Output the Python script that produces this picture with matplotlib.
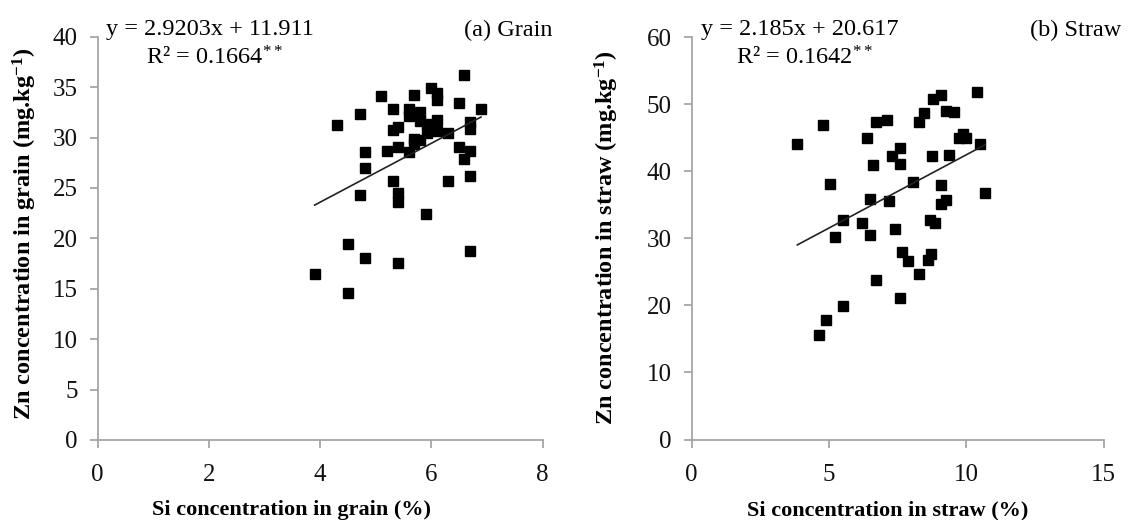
import matplotlib
matplotlib.use("Agg")
import matplotlib.pyplot as plt
import numpy as np

plt.rcParams['font.family'] = ['Liberation Serif', 'DejaVu Serif']
plt.rcParams['mathtext.fontset'] = 'custom'
plt.rcParams['mathtext.rm'] = 'Liberation Serif'
plt.rcParams['mathtext.it'] = 'Liberation Serif:italic'
plt.rcParams['mathtext.bf'] = 'Liberation Serif:bold'

# ---- data ----
grain_si = [6.59, 5.99, 6.10, 6.10, 5.10, 5.69, 6.50, 6.89, 4.71, 5.31, 5.60, 5.60,
            5.80, 5.80, 5.92, 6.10, 6.70, 6.70, 4.30, 5.40, 5.31, 5.92, 6.10, 6.29,
            5.69, 5.80, 5.69, 4.80, 5.20, 5.40, 5.60, 6.50, 6.70, 6.59, 4.80, 5.31,
            6.29, 6.70, 4.71, 5.40, 5.40, 5.90, 4.50, 4.80, 5.40, 3.90, 4.50, 6.70]
grain_zn = [36.25, 34.96, 34.46, 33.73, 34.13, 34.23, 33.40, 32.80, 32.37, 32.80, 32.80, 32.14,
            32.57, 31.64, 31.31, 31.74, 31.58, 30.88, 31.28, 31.05, 30.79, 30.49, 30.69, 30.45,
            29.89, 29.72, 29.32, 28.56, 28.66, 29.03, 28.56, 29.03, 28.66, 27.83, 27.00, 25.70,
            25.70, 26.17, 24.29, 24.52, 23.59, 22.40, 19.45, 18.03, 17.56, 16.50, 14.61, 18.76]

straw_si = [10.38, 8.80, 9.10, 9.26, 9.56, 8.47, 8.29, 4.79, 6.71, 7.10, 6.40, 3.85,
            9.75, 9.90, 10.00, 10.50, 7.59, 7.28, 7.59, 8.76, 9.39, 6.62, 5.03, 8.07,
            9.09, 10.69, 6.48, 7.19, 9.26, 9.09, 5.51, 6.22, 8.69, 8.87, 7.41, 5.21,
            6.48, 7.68, 7.89, 8.70, 8.61, 8.29, 6.71, 7.59, 5.51, 4.89, 4.63]
straw_zn = [51.90, 50.85, 51.39, 49.00, 48.85, 48.65, 47.35, 46.86, 47.35, 47.71, 45.02, 44.13,
            45.00, 45.50, 45.00, 44.13, 43.53, 42.27, 41.03, 42.27, 42.42, 40.88, 38.15, 38.45,
            37.94, 36.70, 35.95, 35.60, 35.80, 35.20, 32.70, 32.36, 32.70, 32.36, 31.42, 30.27,
            30.46, 27.98, 26.58, 27.68, 26.73, 24.74, 23.84, 21.10, 19.85, 17.86, 15.52]

grain_fit = (2.9203, 11.911)
straw_fit = (2.185, 20.617)

grain_xticks = [0, 2, 4, 6, 8]
grain_yticks = [0, 5, 10, 15, 20, 25, 30, 35, 40]
straw_xticks = [0, 5, 10, 15]
straw_yticks = [0, 10, 20, 30, 40, 50, 60]

W, H = 1128, 520
fig = plt.figure(figsize=(W / 100, H / 100), dpi=100)

axc = '#a6a6a6'

def px_axes(x0, x1, ytop, ybot):
    return fig.add_axes([x0 / W, (H - ybot) / H, (x1 - x0) / W, (ybot - ytop) / H])

ax1 = px_axes(97.7, 542.7, 36.7, 440.0)
ax2 = px_axes(691.6, 1103.5, 37.3, 439.5)

def style(ax, xt, yt):
    ax.set_xlim(xt[0], xt[-1])
    ax.set_ylim(yt[0], yt[-1])
    ax.set_xticks(xt)
    ax.set_yticks(yt)
    for s in ['top', 'right']:
        ax.spines[s].set_visible(False)
    for s in ['left', 'bottom']:
        ax.spines[s].set_color(axc)
        ax.spines[s].set_linewidth(1.3)
    ax.tick_params(axis='both', direction='out', length=5.5, width=1.3, color=axc,
                   labelsize=18, labelcolor='#111111')
    ax.tick_params(axis='y', pad=9)
    ax.tick_params(axis='x', pad=12)

style(ax1, grain_xticks, grain_yticks)
style(ax2, straw_xticks, straw_yticks)

ms = 7.2
ax1.plot(grain_si, grain_zn, 's', color='black', markersize=ms, linestyle='none', clip_on=False)
ax2.plot(straw_si, straw_zn, 's', color='black', markersize=ms, linestyle='none', clip_on=False)

gx = np.array([min(grain_si), max(grain_si)])
ax1.plot(gx, grain_fit[0] * gx + grain_fit[1], color='#222222', linewidth=1.2)
sx = np.array([min(straw_si), max(straw_si)])
ax2.plot(sx, straw_fit[0] * sx + straw_fit[1], color='#222222', linewidth=1.2)

fs_ann = 17.5
fig.text(106 / W, 1 - 30 / H, 'y = 2.9203x + 11.911', fontsize=fs_ann, ha='left', va='center')
fig.text(146 / W, 1 - 58 / H, 'R² = 0.1664$^{**}$', fontsize=fs_ann, ha='left', va='center')
fig.text(553 / W, 1 - 30 / H, '(a) Grain', fontsize=fs_ann, ha='right', va='center')

fig.text(701 / W, 1 - 30 / H, 'y = 2.185x + 20.617', fontsize=fs_ann, ha='left', va='center')
fig.text(736 / W, 1 - 58 / H, 'R² = 0.1642$^{**}$', fontsize=fs_ann, ha='left', va='center')
fig.text(1030 / W, 1 - 30 / H, '(b) Straw', fontsize=fs_ann, ha='left', va='center')

fs_lab = 16
fig.text(292 / W, 1 - 510 / H, 'Si concentration in grain (%)', fontsize=fs_lab,
         fontweight='bold', ha='center', va='center')
fig.text(888 / W, 1 - 510 / H, 'Si concentration in straw (%)', fontsize=fs_lab,
         fontweight='bold', ha='center', va='center')
fig.text(25 / W, 1 - 234 / H, r'Zn concentration in grain (mg.kg$^{\mathbf{-1}}$)', fontsize=17.5,
         fontweight='bold', ha='center', va='center', rotation=90)
fig.text(607 / W, 1 - 238 / H, r'Zn concentration in straw (mg.kg$^{\mathbf{-1}}$)', fontsize=17.5,
         fontweight='bold', ha='center', va='center', rotation=90)

fig.savefig('out.png', dpi=100)
